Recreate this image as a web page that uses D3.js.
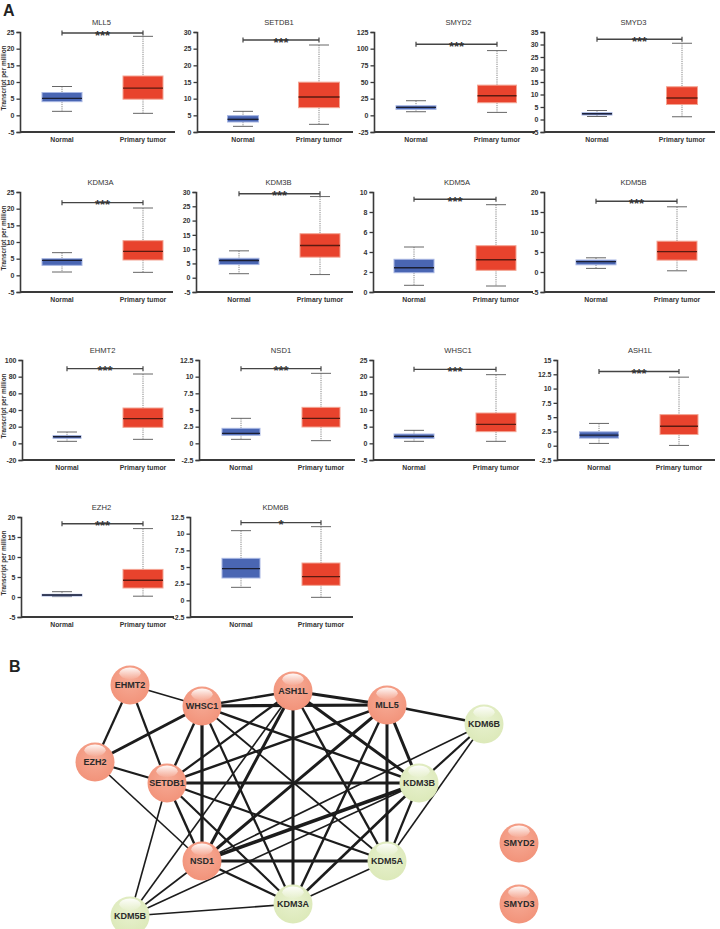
<!DOCTYPE html>
<html><head><meta charset="utf-8">
<script src="https://cdn.jsdelivr.net/npm/d3@7"></script>
<style>
body{margin:0;background:#fff}
svg{display:block}
text{font-family:"Liberation Sans",Arial,Helvetica,sans-serif}
</style>
</head><body>
<svg id="chart" width="720" height="929"></svg>
<script>
// ---------------- DATA ----------------
const genes = ["MLL5","SETDB1","SMYD2","SMYD3","KDM3A","KDM3B","KDM5A","KDM5B","EHMT2","NSD1","WHSC1","ASH1L","EZH2","KDM6B"];
const categories = ["Normal","Primary tumor"];
const significance = ["***","***","***","***","***","***","***","***","***","***","***","***","***","*"];
const yDomains = [[-5,25],[0,30],[-25,125],[-5,35],[-5,25],[-5,30],[0,10],[-5,20],[-20,100],[-2.5,12.5],[-5,25],[-2.5,15],[-5,20],[-2.5,12.5]];
const yTickSteps = [5,5,25,5,5,5,2,5,20,2.5,5,2.5,5,2.5];
// [min, q1, median, q3, max]
const normalStats = [
  [1.2,4.1,5.1,6.85,8.65],
  [1.7,3.0,3.8,4.9,6.2],
  [5.4,8.9,11.9,14.4,21.9],
  [1.2,1.8,2.3,2.7,3.6],
  [1.0,3.0,4.5,5.0,6.8],
  [1.4,4.6,6.0,6.8,9.4],
  [0.67,1.93,2.43,3.27,4.5],
  [0.9,1.8,2.6,3.0,3.55],
  [2.4,6.0,8.0,9.2,13.6],
  [0.6,1.2,1.5,2.25,3.75],
  [0.6,1.5,2.1,2.8,3.9],
  [0.4,1.33,1.85,2.43,3.9],
  [0.1,0.25,0.5,0.67,1.33],
  [1.95,3.35,4.75,6.3,10.45]
];
const tumorStats = [
  [0.6,4.85,8.15,11.8,23.7],
  [2.3,7.3,10.5,14.95,26.1],
  [4.4,18.9,29.3,45.3,97.1],
  [1.1,6.0,8.6,13.1,30.5],
  [0.9,4.6,7.2,10.4,20.2],
  [1.1,7.2,11.3,15.4,28.4],
  [0.6,2.17,3.23,4.63,8.73],
  [0.3,2.97,5.1,7.7,16.3],
  [4.8,19.2,29.6,42.4,83.2],
  [0.4,2.45,3.75,5.4,10.5],
  [0.6,3.5,5.7,9.1,20.6],
  [0.05,1.96,3.41,5.44,12.0],
  [0.2,2.25,4.2,6.9,17.1],
  [0.45,2.25,3.55,5.6,11.05]
];
const bracketValues = [24.7,27.6,106.6,32.1,21.8,29.4,9.27,17.7,89.6,11.2,22.2,13.0,18.3,11.65];
const yAxisTitle = "Transcript per million";

// network
const nodeNames = ["ASH1L","EHMT2","WHSC1","MLL5","KDM6B","EZH2","SETDB1","KDM3B","NSD1","KDM5A","SMYD2","KDM5B","KDM3A","SMYD3"];
const nodeGroups = ["up","up","up","up","down","up","up","down","up","down","up","down","down","up"];
const edges = [
  ["EHMT2","WHSC1",1.6],["EHMT2","EZH2",2.2],["EHMT2","SETDB1",2.2],
  ["EZH2","WHSC1",3],["EZH2","SETDB1",2.2],["EZH2","NSD1",1.6],
  ["WHSC1","SETDB1",2.4],["WHSC1","NSD1",3.2],["WHSC1","ASH1L",2.4],["WHSC1","MLL5",3.2],
  ["WHSC1","KDM3B",2.4],["WHSC1","KDM3A",2.2],["WHSC1","KDM5A",1.8],
  ["ASH1L","MLL5",3],["ASH1L","SETDB1",2.2],["ASH1L","NSD1",3],["ASH1L","KDM3A",3],
  ["ASH1L","KDM3B",3],["ASH1L","KDM5A",2.4],["ASH1L","KDM5B",1.6],
  ["MLL5","SETDB1",2.4],["MLL5","NSD1",3],["MLL5","KDM3B",3],["MLL5","KDM5A",3],
  ["MLL5","KDM6B",2.4],["MLL5","KDM3A",2.4],
  ["SETDB1","NSD1",2.4],["SETDB1","KDM3B",3.2],["SETDB1","KDM5A",2.2],["SETDB1","KDM3A",2.2],["SETDB1","KDM5B",1.6],
  ["NSD1","KDM5A",3.2],["NSD1","KDM3B",3.6],["NSD1","KDM3A",2.2],["NSD1","KDM5B",1.6],["NSD1","KDM6B",1.6],
  ["KDM3A","KDM5B",1.6],["KDM3A","KDM5A",1.6],["KDM3A","KDM3B",2.6],
  ["KDM5B","KDM3B",1.6],["KDM3B","KDM5A",2.2],["KDM3B","KDM6B",2.2],["KDM5A","KDM6B",1.6]
];

// ---------------- LAYOUT ----------------
const rowTops = [32,192,360,517];
const plotH = 100;
const plotX0 = [20,197,374,544, 20,196,373,544, 22,199,373,557, 21,190];
const plotX1 = [175,353,535,715, 173,353,533,715, 175,355,535,715, 174,353];
const normalCx = [62,243,416,597, 62,239,414,596, 67,241,414,599, 62,241];
const tumorCx  = [143,319,497,682, 143,320,496,677, 143,321,496,679, 143,321];
const normalW = [40,31,40,30,40,40,40,40,28,38,40,39,40,38];
const tumorW  = [40,41,39,31,40,40,40,40,40,38,40,38,40,38];
const nodePos = {
  ASH1L:[293,691], EHMT2:[130,685], WHSC1:[202,706], MLL5:[387,705], KDM6B:[484,724],
  EZH2:[95,762], SETDB1:[167,783], KDM3B:[419,783], NSD1:[202,861], KDM5A:[387,861],
  SMYD2:[519,843], KDM5B:[130,916], KDM3A:[293,904], SMYD3:[519,904]
};
const nodeR = 19.5;

const svg = d3.select("#chart");
const FONT = '"Liberation Sans",Arial,sans-serif';
const axisColor = "#3a3a3a";

svg.append("text").attr("x",3).attr("y",16).attr("font-size",16).attr("font-weight","bold").attr("fill","#222").text("A");
svg.append("text").attr("x",9).attr("y",672).attr("font-size",16).attr("font-weight","bold").attr("fill","#222").text("B");

const boxColors = {
  Normal:{fill:"#4a66b3", stroke:"#a7b6e3", median:"#1b1f33"},
  "Primary tumor":{fill:"#e8432d", stroke:"#f4a493", median:"#5a1a10"}
};

genes.forEach((gene,i)=>{
  const row = Math.floor(i/4), col = i%4;
  const top = rowTops[row], bottom = top+plotH;
  const x0 = plotX0[i], x1 = plotX1[i];
  const g = svg.append("g");
  const [lo,hi] = yDomains[i];
  const y = d3.scaleLinear().domain([lo,hi]).range([bottom,top]);
  const step = yTickSteps[i];
  const ticks = d3.range(lo, hi+step/2, step);
  const x = d3.scaleOrdinal().domain(categories).range([normalCx[i], tumorCx[i]]);
  const widths = {Normal: normalW[i], "Primary tumor": tumorW[i]};

  // y axis
  const ya = g.append("g").attr("transform",`translate(${x0},0)`)
    .call(d3.axisLeft(y).tickValues(ticks).tickSize(3.5).tickPadding(2).tickFormat(d=>String(+d.toFixed(2))));
  ya.select(".domain").attr("stroke",axisColor).attr("stroke-width",1.6);
  ya.selectAll(".tick line").attr("stroke",axisColor).attr("stroke-width",1.3);
  ya.selectAll(".tick text").attr("font-size",7).attr("font-weight","bold").attr("fill","#333").attr("font-family",FONT);

  // x axis line
  g.append("line").attr("x1",x0).attr("x2",x1).attr("y1",bottom).attr("y2",bottom)
    .attr("stroke",axisColor).attr("stroke-width",1.8);
  categories.forEach(c=>{
    g.append("text").attr("x",x(c)).attr("y",bottom+10).attr("text-anchor","middle")
      .attr("font-size",6.8).attr("font-weight","bold").attr("fill","#333").text(c);
  });

  // title
  g.append("text").attr("x",(x0+x1)/2+4).attr("y",top-7).attr("text-anchor","middle")
    .attr("font-size",7.6).attr("fill","#333").text(gene);

  // y axis title
  if(col===0){
    g.append("text").attr("transform",`translate(5.5,${top+46}) rotate(-90)`).attr("text-anchor","middle")
      .attr("font-size",6.4).attr("font-weight","bold").attr("fill","#333").text(yAxisTitle);
  }

  // boxes
  [[categories[0], normalStats[i]],[categories[1], tumorStats[i]]].forEach(([c,s])=>{
    const cx = x(c), w = widths[c], col = boxColors[c];
    const [mn,q1,md,q3,mx] = s;
    g.append("line").attr("x1",cx).attr("x2",cx).attr("y1",y(mx)).attr("y2",y(q3))
      .attr("stroke","#777").attr("stroke-width",0.9).attr("stroke-dasharray","1.2,1");
    g.append("line").attr("x1",cx).attr("x2",cx).attr("y1",y(q1)).attr("y2",y(mn))
      .attr("stroke","#777").attr("stroke-width",0.9).attr("stroke-dasharray","1.2,1");
    [mn,mx].forEach(v=>{
      g.append("line").attr("x1",cx-10).attr("x2",cx+10).attr("y1",y(v)).attr("y2",y(v))
        .attr("stroke","#666").attr("stroke-width",1);
    });
    g.append("rect").attr("x",cx-w/2).attr("width",w).attr("y",y(q3)).attr("height",Math.max(1,y(q1)-y(q3)))
      .attr("fill",col.fill).attr("stroke",col.stroke).attr("stroke-width",1);
    g.append("line").attr("x1",cx-w/2).attr("x2",cx+w/2).attr("y1",y(md)).attr("y2",y(md))
      .attr("stroke",col.median).attr("stroke-width",1.4);
  });

  // significance bracket
  const by = y(bracketValues[i]);
  const bx1 = x(categories[0]), bx2 = x(categories[1]);
  g.append("line").attr("x1",bx1).attr("x2",bx2).attr("y1",by).attr("y2",by).attr("stroke","#444").attr("stroke-width",1.4);
  [bx1,bx2].forEach(bx=>g.append("line").attr("x1",bx).attr("x2",bx).attr("y1",by-2.5).attr("y2",by+2.5).attr("stroke","#444").attr("stroke-width",1.2));
  g.append("text").attr("x",(bx1+bx2)/2).attr("y",by+6.5).attr("text-anchor","middle")
    .attr("font-size",13).attr("font-weight","bold").attr("fill","#333").text(significance[i]);
});

// ---------------- NETWORK ----------------
const defs = svg.append("defs");
const palettes = {
  up:{base:"#f2937a", mid:"#f6ab96"},
  down:{base:"#dce9b9", mid:"#e8f1cf"}
};
Object.entries(palettes).forEach(([k,p])=>{
  const rg = defs.append("radialGradient").attr("id","grad-"+k).attr("cx","50%").attr("cy","40%").attr("r","60%");
  rg.append("stop").attr("offset","0%").attr("stop-color",p.mid);
  rg.append("stop").attr("offset","100%").attr("stop-color",p.base);
});
const gloss = defs.append("linearGradient").attr("id","gloss").attr("x1",0).attr("y1",0).attr("x2",0).attr("y2",1);
gloss.append("stop").attr("offset","0%").attr("stop-color","#fff").attr("stop-opacity",0.95);
gloss.append("stop").attr("offset","100%").attr("stop-color","#fff").attr("stop-opacity",0.05);

const net = svg.append("g");
net.selectAll("line.edge").data(edges).join("line").attr("class","edge")
  .attr("x1",d=>nodePos[d[0]][0]).attr("y1",d=>nodePos[d[0]][1])
  .attr("x2",d=>nodePos[d[1]][0]).attr("y2",d=>nodePos[d[1]][1])
  .attr("stroke","#1c1c1c").attr("stroke-width",d=>d[2]);

const nodes = nodeNames.map((n,i)=>({name:n, group:nodeGroups[i], x:nodePos[n][0], y:nodePos[n][1]}));
const ng = net.selectAll("g.node").data(nodes).join("g").attr("class","node")
  .attr("transform",d=>`translate(${d.x},${d.y})`);
ng.append("circle").attr("r",nodeR).attr("fill",d=>`url(#grad-${d.group})`);
ng.append("ellipse").attr("cx",0).attr("cy",-nodeR*0.6).attr("rx",nodeR*0.55).attr("ry",nodeR*0.3).attr("fill","url(#gloss)");
ng.append("text").attr("text-anchor","middle").attr("y",3.2).attr("font-size",9).attr("font-weight","bold")
  .attr("fill","#2a2a2a").text(d=>d.name);
</script>
</body></html>
